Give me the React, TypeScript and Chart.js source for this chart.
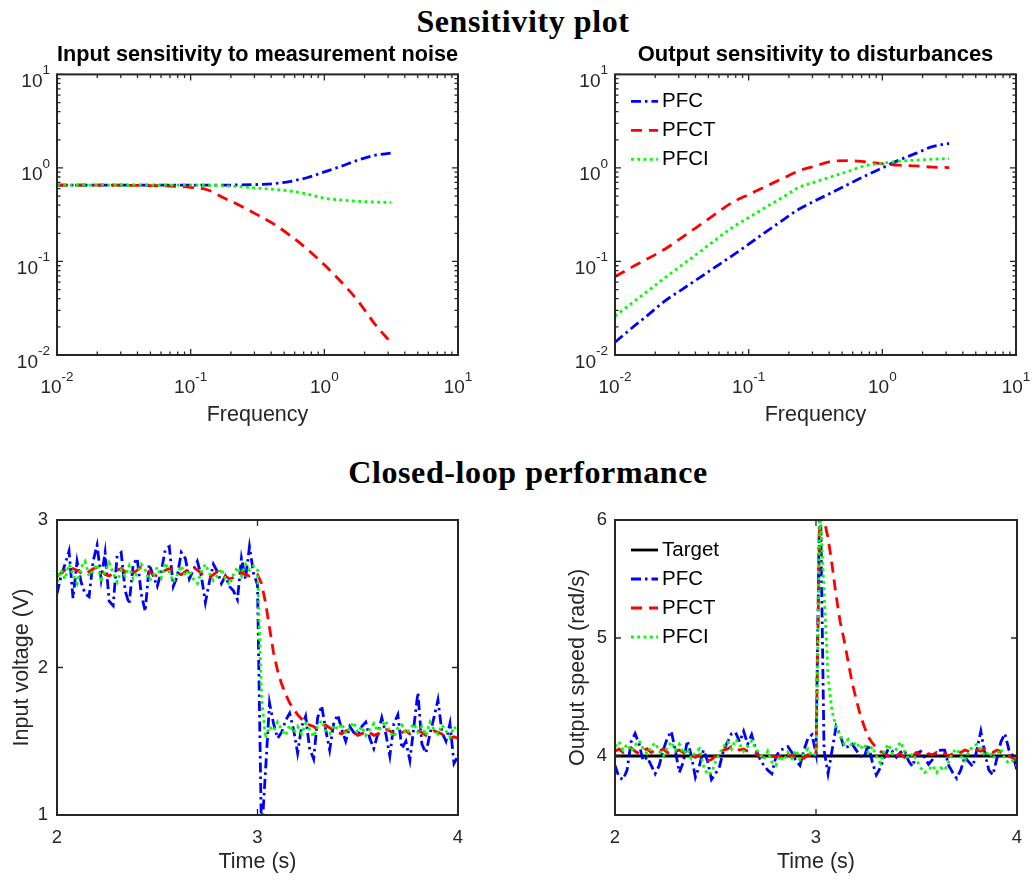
import React, { useEffect, useRef } from "react";
import { Chart, registerables } from "chart.js";

Chart.register(...registerables);

// ---------------- data ----------------
const freqGrid = [0.01, 0.0133, 0.0178, 0.0237, 0.0316, 0.0422, 0.0562, 0.075, 0.1, 0.133, 0.178, 0.237, 0.316, 0.422, 0.562, 0.75, 1, 1.33, 1.78, 2.37, 3.16];

const inSensPFC = [0.655, 0.655, 0.655, 0.655, 0.655, 0.655, 0.655, 0.655, 0.655, 0.655, 0.656, 0.658, 0.665, 0.68, 0.72, 0.79, 0.906, 1.04, 1.21, 1.36, 1.44];
const inSensPFCT = [0.655, 0.655, 0.655, 0.654, 0.653, 0.65, 0.645, 0.637, 0.62, 0.585, 0.476, 0.392, 0.315, 0.249, 0.187, 0.134, 0.092, 0.061, 0.038, 0.0217, 0.0135];
const inSensPFCI = [0.655, 0.655, 0.655, 0.655, 0.655, 0.655, 0.655, 0.655, 0.655, 0.652, 0.645, 0.63, 0.61, 0.59, 0.565, 0.525, 0.475, 0.455, 0.44, 0.432, 0.428];

const outSensPFC = [0.0137, 0.0193, 0.027, 0.038, 0.05, 0.066, 0.087, 0.115, 0.153, 0.205, 0.273, 0.362, 0.447, 0.548, 0.673, 0.826, 1.0, 1.21, 1.43, 1.69, 1.83];
const outSensPFCT = [0.069, 0.0865, 0.108, 0.136, 0.18, 0.24, 0.32, 0.427, 0.52, 0.632, 0.767, 0.93, 1.05, 1.18, 1.2, 1.16, 1.11, 1.07, 1.05, 1.02, 1.01];
const outSensPFCI = [0.026, 0.0357, 0.049, 0.067, 0.0914, 0.124, 0.169, 0.23, 0.295, 0.377, 0.481, 0.617, 0.71, 0.81, 0.925, 1.06, 1.12, 1.18, 1.21, 1.24, 1.26];

// sample instants of the closed-loop runs (2 s .. 4 s, every 0.02 s)
const timeGrid = Array.from({ length: 101 }, (_, i) => Math.round((2 + i * 0.02) * 100) / 100);

const inputPFC = [
  2.50, 2.62, 2.70, 2.79, 2.47, 2.72, 2.58, 2.50, 2.48, 2.72,
  2.83, 2.60, 2.78, 2.45, 2.42, 2.76, 2.78, 2.52, 2.43, 2.70,
  2.74, 2.50, 2.38, 2.70, 2.62, 2.55, 2.65, 2.80, 2.82, 2.55,
  2.62, 2.78, 2.74, 2.60, 2.66, 2.72, 2.62, 2.44, 2.58, 2.70,
  2.65, 2.57, 2.62, 2.55, 2.52, 2.46, 2.74, 2.60, 2.82, 2.64,
  2.56, 0.85, 1.30, 1.76, 1.62, 1.52, 1.56, 1.64, 1.69, 1.58,
  1.42, 1.60, 1.67, 1.45, 1.38, 1.66, 1.74, 1.58, 1.44, 1.62,
  1.68, 1.58, 1.50, 1.60, 1.56, 1.54, 1.60, 1.63, 1.52, 1.45,
  1.55, 1.66, 1.55, 1.40, 1.62, 1.68, 1.45, 1.50, 1.37, 1.60,
  1.83, 1.48, 1.42, 1.55, 1.66, 1.78, 1.56, 1.50, 1.62, 1.35,
  1.40,
];
const inputPFCT = [
  2.62, 2.64, 2.66, 2.65, 2.67, 2.66, 2.64, 2.63, 2.65, 2.67,
  2.68, 2.66, 2.63, 2.62, 2.64, 2.66, 2.67, 2.65, 2.63, 2.64,
  2.66, 2.68, 2.67, 2.65, 2.63, 2.62, 2.64, 2.66, 2.67, 2.66,
  2.64, 2.63, 2.65, 2.67, 2.68, 2.66, 2.64, 2.62, 2.61, 2.63,
  2.65, 2.64, 2.62, 2.60, 2.61, 2.63, 2.64, 2.63, 2.62, 2.63,
  2.63, 2.57, 2.44, 2.27, 2.10, 1.98, 1.89, 1.82, 1.76, 1.72,
  1.68, 1.65, 1.63, 1.61, 1.60, 1.58, 1.60, 1.61, 1.59, 1.57,
  1.56, 1.55, 1.57, 1.58, 1.56, 1.54, 1.55, 1.57, 1.56, 1.54,
  1.55, 1.56, 1.58, 1.57, 1.55, 1.54, 1.56, 1.57, 1.55, 1.56,
  1.57, 1.56, 1.54, 1.55, 1.57, 1.56, 1.55, 1.53, 1.52, 1.53,
  1.52,
];
const inputPFCI = [
  2.58, 2.66, 2.60, 2.70, 2.63, 2.57, 2.68, 2.72, 2.62, 2.66,
  2.70, 2.60, 2.65, 2.71, 2.64, 2.58, 2.66, 2.62, 2.69, 2.60,
  2.64, 2.70, 2.66, 2.59, 2.62, 2.68, 2.61, 2.71, 2.65, 2.58,
  2.63, 2.69, 2.62, 2.66, 2.60, 2.57, 2.65, 2.70, 2.64, 2.59,
  2.62, 2.67, 2.60, 2.56, 2.63, 2.68, 2.62, 2.70, 2.66, 2.69,
  2.66, 1.80, 1.52, 1.60, 1.57, 1.63, 1.58, 1.54, 1.61, 1.56,
  1.60, 1.55, 1.62, 1.58, 1.53, 1.60, 1.64, 1.57, 1.55, 1.61,
  1.58, 1.62, 1.55, 1.59, 1.63, 1.56, 1.60, 1.54, 1.58, 1.62,
  1.57, 1.60, 1.64, 1.56, 1.53, 1.59, 1.61, 1.55, 1.58, 1.62,
  1.56, 1.60, 1.54, 1.63, 1.58, 1.55, 1.61, 1.57, 1.53, 1.60,
  1.56,
];

const targetTimes = [2, 4];
const targetSpeed = [4, 4];

const speedPFC = [
  3.92, 3.82, 3.80, 3.88, 4.12, 4.19, 4.10, 3.96, 3.99, 3.92,
  3.85, 3.92, 4.05, 4.15, 4.21, 4.05, 3.86, 3.95, 4.13, 4.00,
  3.82, 3.92, 4.05, 3.96, 3.80, 3.85, 3.91, 4.05, 4.12, 4.19,
  4.20, 4.12, 4.21, 4.10, 4.18, 4.06, 3.98, 3.92, 3.88, 3.85,
  3.99, 4.05, 4.06, 4.08, 4.03, 3.96, 3.92, 4.05, 4.15, 4.18,
  4.02, 6.40, 4.05, 3.85, 4.05, 4.25, 4.18, 4.07, 4.08, 4.10,
  4.05, 4.00, 3.99, 4.10, 3.95, 3.84, 3.90, 3.99, 4.06, 4.04,
  3.99, 4.03, 4.05, 3.96, 3.91, 4.02, 4.04, 3.99, 3.93, 3.97,
  4.03, 4.05, 4.05, 3.92, 3.86, 3.81, 3.88, 3.99, 3.95, 3.91,
  4.05, 4.21, 4.02, 3.88, 3.84, 3.98, 4.12, 4.19, 4.05, 4.00,
  3.88,
];
const speedPFCT = [
  4.04, 4.06, 4.03, 4.05, 4.07, 4.04, 4.02, 4.05, 4.06, 4.03,
  4.05, 4.04, 4.06, 4.03, 4.02, 4.04, 4.05, 4.03, 4.01, 4.00,
  3.99, 4.01, 3.98, 3.96, 3.97, 4.00, 4.03, 4.05, 4.06, 4.08,
  4.07, 4.05, 4.06, 4.04, 4.03, 4.02, 4.00, 3.99, 4.01, 4.00,
  3.99, 4.00, 3.98, 4.01, 3.99, 4.02, 4.00, 3.98, 4.01, 4.00,
  4.00, 6.20, 6.00, 5.85, 5.62, 5.36, 5.14, 4.98, 4.80, 4.62,
  4.48, 4.35, 4.25, 4.16, 4.11, 4.07, 4.04, 4.02, 4.00, 3.99,
  4.00, 4.02, 3.99, 4.01, 4.00, 4.03, 4.01, 4.00, 4.02, 4.01,
  4.03, 4.01, 4.02, 4.00, 4.02, 4.04, 4.03, 4.05, 4.04, 4.03,
  4.05, 4.04, 4.06, 4.04, 4.03, 4.05, 4.03, 4.02, 4.00, 3.98,
  3.96,
];
const speedPFCI = [
  4.08, 4.12, 4.05, 4.10, 4.04, 4.09, 4.13, 4.06, 4.02, 4.08,
  4.11, 4.04, 4.00, 4.07, 4.12, 4.05, 4.10, 4.02, 4.06, 3.98,
  4.03, 4.06, 3.92, 3.84, 3.86, 3.95, 4.02, 4.08, 4.12, 4.06,
  4.14, 4.10, 4.04, 4.08, 4.13, 4.06, 4.02, 3.97, 4.04, 3.95,
  3.92, 4.00, 3.96, 4.03, 3.98, 4.05, 3.97, 4.02, 4.06, 4.00,
  4.02, 6.10, 5.40, 4.67, 4.38, 4.24, 4.18, 4.10, 4.14, 4.08,
  4.12, 4.06, 4.10, 4.03, 4.08, 4.00, 3.94, 4.05, 4.10, 4.02,
  4.06, 4.12, 4.04, 3.98, 4.02, 3.97, 3.90, 3.86, 3.88, 3.92,
  3.86, 3.90, 3.88, 3.95, 4.03, 4.06, 4.00, 3.96, 4.04, 4.08,
  4.10, 4.06, 4.00, 4.04, 3.98, 4.02, 4.06, 3.97, 3.94, 3.96,
  3.92,
];

// ---------------- ticks ----------------
const decadeTicks = [0.01, 0.1, 1, 10];
const decadeBase = "10";
const decadeExponents = ["-2", "-1", "0", "1"];
const decadeMinor = [
  0.02, 0.03, 0.04, 0.05, 0.06, 0.07, 0.08, 0.09,
  0.2, 0.3, 0.4, 0.5, 0.6, 0.7, 0.8, 0.9,
  2, 3, 4, 5, 6, 7, 8, 9,
];
const timeTicks = [2, 3, 4];
const timeLabels = ["2", "3", "4"];
const voltTicks = [1, 2, 3];
const voltLabels = ["1", "2", "3"];
const speedTicks = [4, 5, 6];
const speedLabels = ["4", "5", "6"];

// ---------------- styles ----------------
const FONT = "'Liberation Sans', Arial, Helvetica, sans-serif";
const AXIS_COLOR = "#262626";
const TICK_SIZE = 18.5;
const LABEL_SIZE = 21.5;
const LOG_MAIN_SIZE = 19;
const LOG_SUP_SIZE = 13.5;

const STYLE_PFC = { color: "#0000ff", width: 2.8, dash: [10, 4, 2.5, 4], order: 2 };
const STYLE_PFCT = { color: "#ff0000", width: 2.8, dash: [11, 7], order: 1 };
const STYLE_PFCI = { color: "#00ff00", width: 2.8, dash: [2.8, 3.5], order: 0 };
const STYLE_TARGET = { color: "#000000", width: 2.8, dash: [] as number[], order: 3 };

// ---------------- plugins ----------------
const frameTicks = {
  id: "frameTicks",
  afterDatasetsDraw(chart: any, _args: any, o: any) {
    const { ctx, chartArea } = chart;
    const { left, right, top, bottom } = chartArea;
    const xs = chart.scales.x;
    const ys = chart.scales.y;
    ctx.save();
    ctx.setLineDash([]);
    ctx.strokeStyle = AXIS_COLOR;
    ctx.lineWidth = 1.3;
    ctx.beginPath();
    const xt = (vals: number[], len: number) =>
      vals.forEach((v) => {
        const p = xs.getPixelForValue(v);
        ctx.moveTo(p, bottom);
        ctx.lineTo(p, bottom - len);
        ctx.moveTo(p, top);
        ctx.lineTo(p, top + len);
      });
    const yt = (vals: number[], len: number) =>
      vals.forEach((v) => {
        const p = ys.getPixelForValue(v);
        ctx.moveTo(left, p);
        ctx.lineTo(left + len, p);
        ctx.moveTo(right, p);
        ctx.lineTo(right - len, p);
      });
    xt(o.xMajor || [], 6);
    yt(o.yMajor || [], 6);
    xt(o.xMinor || [], 3.5);
    yt(o.yMinor || [], 3.5);
    ctx.stroke();
    ctx.lineWidth = 2;
    ctx.strokeRect(left, top, right - left, bottom - top);

    // power-of-ten tick labels with a real superscript
    const mainFont = `${LOG_MAIN_SIZE}px ${FONT}`;
    const supFont = `${LOG_SUP_SIZE}px ${FONT}`;
    ctx.fillStyle = AXIS_COLOR;
    ctx.textAlign = "left";
    ctx.textBaseline = "alphabetic";
    const measure = (exp: string) => {
      ctx.font = mainFont;
      const wm = ctx.measureText(decadeBase).width;
      ctx.font = supFont;
      const ws = ctx.measureText(exp).width;
      return { wm, ws };
    };
    const draw = (x0: number, base: number, exp: string, wm: number) => {
      ctx.font = mainFont;
      ctx.fillText(decadeBase, x0, base);
      ctx.font = supFont;
      ctx.fillText(exp, x0 + wm, base - 12.5);
    };
    if (o.xLog) {
      o.xMajor.forEach((v: number, i: number) => {
        const p = xs.getPixelForValue(v);
        const { wm, ws } = measure(decadeExponents[i]);
        draw(p - (wm + ws) / 2, bottom + 38, decadeExponents[i], wm);
      });
    }
    if (o.yLog) {
      o.yMajor.forEach((v: number, i: number) => {
        const p = ys.getPixelForValue(v);
        const { wm, ws } = measure(decadeExponents[i]);
        draw(left - 7 - (wm + ws), p + 12.5, decadeExponents[i], wm);
      });
    }
    ctx.restore();
  },
};

const insideLegend = {
  id: "insideLegend",
  afterDraw(chart: any, _args: any, o: any) {
    if (!o || !o.show) return;
    const { ctx, chartArea } = chart;
    ctx.save();
    ctx.font = `${o.fontSize}px ${FONT}`;
    ctx.textBaseline = "middle";
    ctx.textAlign = "left";
    chart.data.datasets.forEach((ds: any, i: number) => {
      const y = chartArea.top + o.y + i * o.gap;
      const x0 = chartArea.left + o.x;
      ctx.strokeStyle = ds.borderColor;
      ctx.lineWidth = ds.borderWidth;
      ctx.setLineDash(ds.borderDash || []);
      ctx.beginPath();
      ctx.moveTo(x0, y);
      ctx.lineTo(x0 + o.lineLen, y);
      ctx.stroke();
      ctx.setLineDash([]);
      ctx.fillStyle = "#000";
      ctx.fillText(ds.label, x0 + o.lineLen + o.textGap, y);
    });
    ctx.restore();
  },
};

// ---------------- config builder ----------------
function makeConfig(p: any) {
  const datasets = p.series.map((s: any) => ({
    label: s.label,
    data: s.data,
    borderColor: s.style.color,
    backgroundColor: s.style.color,
    borderWidth: s.style.width,
    borderDash: s.style.dash,
    order: s.style.order,
    pointRadius: 0,
    pointHoverRadius: 0,
    fill: false,
    clip: 0,
    tension: 0,
    cubicInterpolationMode: p.smooth ? "monotone" : "default",
  }));
  const tickFont = { family: FONT, size: TICK_SIZE };
  const labelFont = { family: FONT, size: LABEL_SIZE };
  const axis = (a: any, isX: boolean) => ({
    type: a.type,
    min: a.min,
    max: a.max,
    grid: { display: false, drawTicks: false },
    border: { display: false },
    afterBuildTicks: (s: any) => {
      s.ticks = a.ticks.map((v: number) => ({ value: v }));
    },
    afterFit: (s: any) => {
      if (isX) s.height = a.size;
      else s.width = a.size;
    },
    ticks: {
      display: !a.log,
      autoSkip: false,
      maxRotation: 0,
      minRotation: 0,
      padding: a.tickPad,
      color: AXIS_COLOR,
      font: tickFont,
      callback: (_v: any, i: number) => (a.labels ? a.labels[i] : ""),
    },
    title: a.title
      ? {
          display: true,
          text: a.title,
          color: AXIS_COLOR,
          font: labelFont,
          padding: isX ? { top: 0, bottom: a.titlePad } : { top: a.titlePad, bottom: 0 },
        }
      : { display: false },
  });
  return {
    type: "line",
    data: { labels: p.labels, datasets },
    plugins: [frameTicks, insideLegend],
    options: {
      responsive: false,
      animation: false,
      events: [],
      layout: { padding: { left: 0, top: p.padTop, right: p.padRight, bottom: 0 } },
      plugins: {
        legend: { display: false },
        tooltip: { enabled: false },
        title: p.title
          ? {
              display: true,
              text: p.title,
              fullSize: false,
              color: "#000",
              font: { family: FONT, size: 22, weight: "bold" },
              padding: { top: 12, bottom: 6 },
            }
          : { display: false },
        frameTicks: {
          xMajor: p.x.ticks,
          yMajor: p.y.ticks,
          xMinor: p.x.minor,
          yMinor: p.y.minor,
          xLog: !!p.x.log,
          yLog: !!p.y.log,
        },
        insideLegend: p.legend || { show: false },
      },
      scales: { x: axis(p.x, true), y: axis(p.y, false) },
    },
  };
}

const zip = (xs: number[], ys: number[]) => xs.map((x, i) => ({ x, y: ys[i] }));

const freqAxis = (size: number, tickPad: number, title?: string) => ({
  type: "logarithmic",
  log: true,
  min: 0.01,
  max: 10,
  ticks: decadeTicks,
  minor: decadeMinor,
  size,
  tickPad,
  title,
  titlePad: 12,
});

const topLeftConfig = () =>
  makeConfig({
    labels: freqGrid,
    smooth: true,
    title: "Input sensitivity to measurement noise",
    padTop: 0,
    padRight: 42,
    x: freqAxis(85, 17, "Frequency"),
    y: freqAxis(57, 8),
    series: [
      { label: "PFC", data: inSensPFC, style: STYLE_PFC },
      { label: "PFCT", data: inSensPFCT, style: STYLE_PFCT },
      { label: "PFCI", data: inSensPFCI, style: STYLE_PFCI },
    ],
  });

const topRightConfig = () =>
  makeConfig({
    labels: freqGrid,
    smooth: true,
    title: "Output sensitivity to disturbances",
    padTop: 0,
    padRight: 20,
    x: freqAxis(85, 17, "Frequency"),
    y: freqAxis(85, 8),
    series: [
      { label: "PFC", data: outSensPFC, style: STYLE_PFC },
      { label: "PFCT", data: outSensPFCT, style: STYLE_PFCT },
      { label: "PFCI", data: outSensPFCI, style: STYLE_PFCI },
    ],
    legend: { show: true, x: 16, y: 27, gap: 29, lineLen: 27, textGap: 4, fontSize: 20.5 },
  });

const bottomLeftConfig = () =>
  makeConfig({
    labels: timeGrid,
    smooth: false,
    padTop: 50,
    padRight: 42,
    x: { type: "linear", min: 2, max: 4, ticks: timeTicks, labels: timeLabels, minor: [], size: 67, tickPad: 12, title: "Time (s)", titlePad: 7 },
    y: { type: "linear", min: 1, max: 3, ticks: voltTicks, labels: voltLabels, minor: [], size: 57, tickPad: 9, title: "Input voltage (V)", titlePad: 9 },
    series: [
      { label: "PFC", data: inputPFC, style: STYLE_PFC },
      { label: "PFCT", data: inputPFCT, style: STYLE_PFCT },
      { label: "PFCI", data: inputPFCI, style: STYLE_PFCI },
    ],
  });

const bottomRightConfig = () =>
  makeConfig({
    labels: timeGrid,
    smooth: false,
    padTop: 50,
    padRight: 19,
    x: { type: "linear", min: 2, max: 4, ticks: timeTicks, labels: timeLabels, minor: [], size: 67, tickPad: 12, title: "Time (s)", titlePad: 7 },
    y: { type: "linear", min: 3.5, max: 6, ticks: speedTicks, labels: speedLabels, minor: [], size: 85, tickPad: 8, title: "Output speed (rad/s)", titlePad: 35 },
    series: [
      { label: "Target", data: zip(targetTimes, targetSpeed), style: STYLE_TARGET },
      { label: "PFC", data: speedPFC, style: STYLE_PFC },
      { label: "PFCT", data: speedPFCT, style: STYLE_PFCT },
      { label: "PFCI", data: speedPFCI, style: STYLE_PFCI },
    ],
    legend: { show: true, x: 16, y: 30, gap: 29, lineLen: 27, textGap: 4, fontSize: 20.5 },
  });

// ---------------- components ----------------
function Panel(props: { left: number; top: number; width: number; height: number; config: () => any }) {
  const ref = useRef<HTMLCanvasElement | null>(null);
  useEffect(() => {
    if (!ref.current) return;
    const chart = new Chart(ref.current, props.config() as any);
    return () => chart.destroy();
  }, []);
  return (
    <canvas
      ref={ref}
      width={props.width}
      height={props.height}
      style={{ position: "absolute", left: props.left, top: props.top, width: props.width, height: props.height, display: "block" }}
    />
  );
}

const superTitle: React.CSSProperties = {
  position: "absolute",
  width: 1036,
  textAlign: "center",
  fontFamily: "'Liberation Serif', 'Times New Roman', serif",
  fontWeight: "bold",
  fontSize: 32,
  lineHeight: "32px",
  letterSpacing: "0.6px",
  color: "#000",
  whiteSpace: "nowrap",
  margin: 0,
};

export default function App() {
  return (
    <div style={{ position: "absolute", left: 0, top: 0, width: 1036, height: 882, background: "#fff", overflow: "hidden" }}>
      <div style={{ ...superTitle, left: 5, top: 5 }}>Sensitivity plot</div>
      <div style={{ ...superTitle, left: 10, top: 456 }}>Closed-loop performance</div>
      <Panel left={0} top={30} width={500} height={410} config={topLeftConfig} />
      <Panel left={530} top={30} width={506} height={410} config={topRightConfig} />
      <Panel left={0} top={470} width={500} height={412} config={bottomLeftConfig} />
      <Panel left={530} top={470} width={506} height={412} config={bottomRightConfig} />
    </div>
  );
}
